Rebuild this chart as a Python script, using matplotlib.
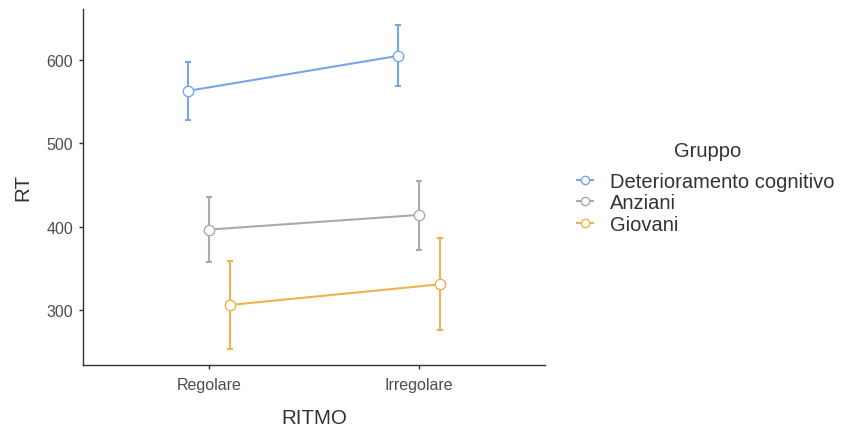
import matplotlib.pyplot as plt
from matplotlib.lines import Line2D

plt.rcParams['font.family'] = ['Liberation Sans', 'DejaVu Sans']

ritmo = ['Regolare', 'Irregolare']
gruppi = ['Deterioramento cognitivo', 'Anziani', 'Giovani']
colori = ['#79A6EB', '#AAAAAA', '#EDB34F']

# mean RT and error-bar limits per group, one value per rhythm
rt_mean = [[562.8, 604.8], [396.4, 414.0], [306.0, 330.8]]
rt_low = [[528.0, 568.8], [357.0, 372.0], [253.0, 275.5]]
rt_high = [[597.6, 642.0], [436.0, 455.0], [359.0, 386.0]]

dodge = [-0.1, 0.0, 0.1]

fig = plt.figure(figsize=(8.42, 4.27), dpi=100)
ax = fig.add_axes([83 / 842, 1 - 366 / 427, 462 / 842, 356 / 427])

handles = []
for g, name in enumerate(gruppi):
    xs = [i + 1 + dodge[g] for i in range(len(ritmo))]
    m = rt_mean[g]
    err = [[m[i] - rt_low[g][i] for i in range(2)],
           [rt_high[g][i] - m[i] for i in range(2)]]
    ax.errorbar(xs, m, yerr=err, fmt='none', ecolor=colori[g],
                elinewidth=1.5, capsize=2.5, capthick=1.5, zorder=2)
    ax.plot(xs, m, color=colori[g], lw=1.5, marker='o', ms=7.5,
            mfc='white', mec=colori[g], mew=1.0, zorder=3)
    handles.append(Line2D([], [], color=colori[g], lw=1.5, marker='o',
                          ms=6, mfc='white', mec=colori[g], mew=1.0))

ax.set_xlim(0.4, 2.6)
ax.set_ylim(234, 661)
ax.set_xticks([1, 2])
ax.set_xticklabels(ritmo)
ax.set_yticks([300, 400, 500, 600])

for side in ['top', 'right']:
    ax.spines[side].set_visible(False)
for side in ['left', 'bottom']:
    ax.spines[side].set_color('#333333')
    ax.spines[side].set_linewidth(1.0)
ax.tick_params(axis='both', colors='#333333', labelcolor='#4D4D4D',
               labelsize=11.5, length=3, width=1.0, pad=4)
ax.tick_params(axis='x', pad=5.5)

ax.set_xlabel('RITMO', fontsize=14.8, color='#333333', labelpad=12)
ax.set_ylabel('RT', fontsize=14.8, color='#333333', labelpad=10)

# legend title drawn separately to get the wider gap above the keys
fig.text(708 / 842, 1 - 152 / 427, 'Gruppo', fontsize=14.5,
         color='#333333', ha='center', va='center')
leg = fig.legend(handles, gruppi, loc='center left',
                 bbox_to_anchor=(577 / 842, 1 - 204 / 427), frameon=False,
                 fontsize=14.5, handlelength=0.8, handletextpad=0.85,
                 labelspacing=0.14, borderpad=0, borderaxespad=0)
for t in leg.get_texts():
    t.set_color('#333333')

fig.savefig('out.png', dpi=100)
